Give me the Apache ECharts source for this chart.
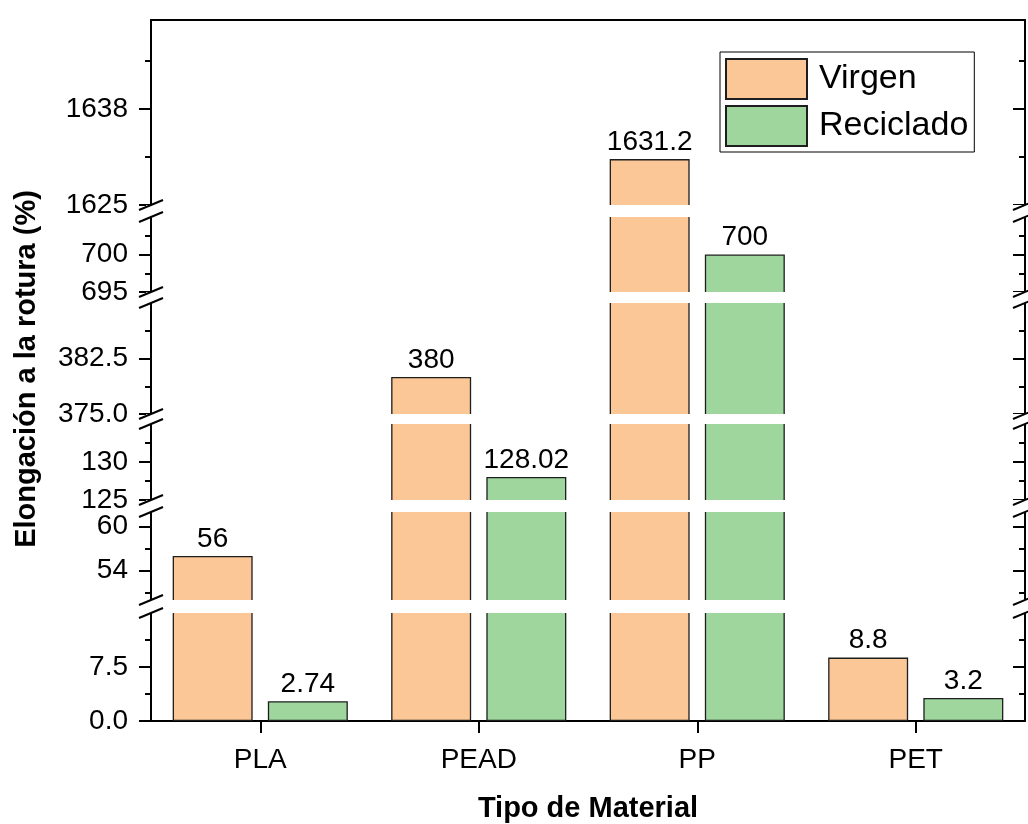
<!DOCTYPE html>
<html>
<head>
<meta charset="utf-8">
<script src="https://cdn.jsdelivr.net/npm/echarts@6/dist/echarts.min.js"></script>
<style>
  html, body { margin: 0; padding: 0; background: #fff; }
  #chart { width: 1028px; height: 824px; }
</style>
</head>
<body>
<div id="chart"></div>
<script>
// ---- data ----
const categories = ['PLA', 'PEAD', 'PP', 'PET'];
const seriesNames = ['Virgen', 'Reciclado'];
const virgen = [56, 380, 1631.2, 8.8];
const reciclado = [2.74, 128.02, 700, 3.2];

// value span of each axis piece (bottom piece first)
const segRanges = [[0, 15], [50, 62], [125, 135], [375, 390], [695, 705], [1625, 1650]];
const majorTicks = [[0, 7.5], [54, 60], [125, 130], [375, 382.5], [695, 700], [1625, 1638]];
const minorTicks = [[3.75, 11.25], [51, 57], [127.5, 132.5], [378.75, 386.25], [697.5, 702.5], [1631.5, 1644.5]];
const tickLabels = [['0.0', '7.5'], ['54', '60'], ['125', '130'], ['375.0', '382.5'], ['695', '700'], ['1625', '1638']];

// ---- layout ----
// pixel rows [bottom, top] of each visible axis piece
const segRows = [[723, 613], [600, 512], [500, 424], [414, 303], [292, 217], [205, 20]];
const PLOT_LEFT = 151, PLOT_RIGHT = 1025, WIDTH = 1028;
const EXT = 4; // each grid reaches a little into the break band, which hides the cut edges
const FONT = 'Liberation Sans, Arial, sans-serif';
const COLORS = ['#FBC797', '#9ED69D'];
const LAST = segRows.length - 1;

const grids = [], xAxes = [], yAxes = [], series = [], graphics = [];

segRows.forEach((row, i) => {
  const [lo, hi] = segRanges[i];
  const top = i === LAST ? row[1] : row[1] - EXT;
  const bottom = i === 0 ? row[0] : row[0] + EXT;
  const scale = (row[0] - row[1]) / (hi - lo);
  const min = lo - (bottom - row[0]) / scale;
  const max = hi + (row[1] - top) / scale;

  grids.push({ left: PLOT_LEFT, width: PLOT_RIGHT - PLOT_LEFT, top: top, height: bottom - top });

  xAxes.push({
    type: 'category',
    gridIndex: i,
    data: categories,
    show: i === 0 || i === LAST,
    position: i === LAST ? 'top' : 'bottom',
    axisLine: { show: true, onZero: false, lineStyle: { color: '#000', width: 2 } },
    axisTick: i === 0
      ? { show: true, alignWithLabel: true, inside: false, length: 12, lineStyle: { color: '#000', width: 2 } }
      : { show: false },
    axisLabel: i === 0
      ? { show: true, fontSize: 28, color: '#000', fontFamily: FONT, margin: 25 }
      : { show: false },
    splitLine: { show: false },
    name: i === 0 ? 'Tipo de Material' : '',
    nameLocation: 'middle',
    nameGap: 73,
    nameTextStyle: { fontSize: 29, fontWeight: 'bold', color: '#000', fontFamily: FONT }
  });

  const base = { type: 'value', gridIndex: i, min: min, max: max, splitLine: { show: false } };
  const labelFor = (v) => {
    let best = '';
    majorTicks[i].forEach((t, k) => { if (Math.abs(t - v) < 1e-6) best = tickLabels[i][k]; });
    return best;
  };
  // left axis with labels and major ticks
  yAxes.push(Object.assign({}, base, {
    position: 'left',
    axisLine: { show: true, onZero: false, lineStyle: { color: '#000', width: 2 } },
    axisTick: { show: true, inside: false, length: 12, customValues: majorTicks[i], lineStyle: { color: '#000', width: 2 } },
    axisLabel: { show: true, customValues: majorTicks[i], formatter: labelFor, fontSize: 28, color: '#000', fontFamily: FONT, margin: 23 }
  }));
  // left minor ticks
  yAxes.push(Object.assign({}, base, {
    position: 'left',
    axisLine: { show: false },
    axisTick: { show: true, inside: false, length: 6, customValues: minorTicks[i], lineStyle: { color: '#000', width: 2 } },
    axisLabel: { show: false }
  }));
  // right axis, ticks pointing inward
  yAxes.push(Object.assign({}, base, {
    position: 'right',
    axisLine: { show: true, onZero: false, lineStyle: { color: '#000', width: 2 } },
    axisTick: { show: true, inside: true, length: 12, customValues: majorTicks[i], lineStyle: { color: '#000', width: 2 } },
    axisLabel: { show: false }
  }));
  yAxes.push(Object.assign({}, base, {
    position: 'right',
    axisLine: { show: false },
    axisTick: { show: true, inside: true, length: 6, customValues: minorTicks[i], lineStyle: { color: '#000', width: 2 } },
    axisLabel: { show: false }
  }));

  [virgen, reciclado].forEach((values, s) => {
    series.push({
      type: 'bar',
      name: seriesNames[s],
      xAxisIndex: i,
      yAxisIndex: i * 4,
      clip: true,
      barWidth: '36.6%',
      barGap: '19%',
      itemStyle: { color: COLORS[s], borderColor: '#1e1e1e', borderWidth: 1.3 },
      label: { show: true, position: 'top', distance: 3, fontSize: 28, color: '#000', fontFamily: FONT },
      emphasis: { disabled: true },
      data: values.map(v => v < lo ? '-' : { value: v, label: { show: v <= hi } })
    });
  });
});

// break bands and double-slash marks on both vertical axes
for (let k = 0; k < LAST; k++) {
  const yLow = segRows[k][1];       // top edge of the lower piece
  const yHigh = segRows[k + 1][0];  // bottom edge of the upper piece
  graphics.push({
    type: 'rect', z: 100,
    shape: { x: 146, y: yHigh, width: WIDTH - 146, height: yLow - yHigh },
    style: { fill: '#fff' }
  });
  [PLOT_LEFT, PLOT_RIGHT].forEach(X => {
    [yHigh, yLow].forEach(y => {
      graphics.push({
        type: 'line', z: 101,
        shape: { x1: X - 12, y1: y + 5, x2: X + 12, y2: y - 5 },
        style: { stroke: '#000', lineWidth: 2 }
      });
    });
  });
}
graphics.push({
  type: 'text', z: 101,
  x: 27, y: 369, rotation: Math.PI / 2,
  style: {
    text: 'Elongación a la rotura (%)',
    fontSize: 29, fontWeight: 'bold', fontFamily: FONT, fill: '#000',
    align: 'center', verticalAlign: 'middle'
  }
});

const chart = echarts.init(document.getElementById('chart'), null, { renderer: 'canvas' });
chart.setOption({
  animation: false,
  backgroundColor: '#fff',
  grid: grids,
  xAxis: xAxes,
  yAxis: yAxes,
  series: series,
  legend: {
    data: seriesNames,
    orient: 'vertical',
    left: 720, top: 52,
    icon: 'rect',
    itemWidth: 81, itemHeight: 40, itemGap: 5,
    padding: [6, 6, 5, 5],
    borderColor: '#000', borderWidth: 1,
    selectedMode: false,
    textStyle: { fontSize: 34, color: '#000', fontFamily: FONT, padding: [0, 0, 0, 7] }
  },
  graphic: graphics
});
</script>
</body>
</html>
